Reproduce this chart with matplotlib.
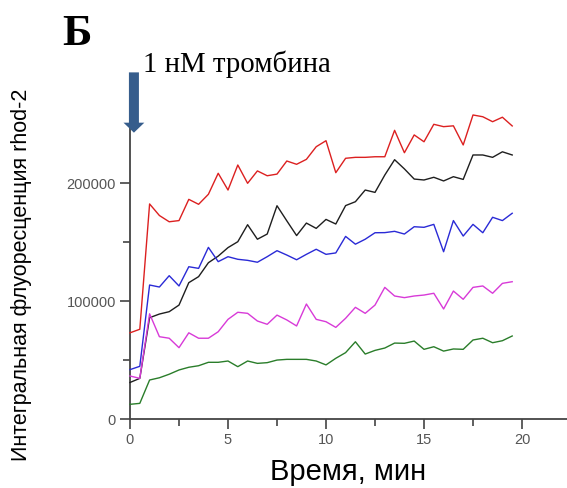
import matplotlib
matplotlib.use('Agg')
import matplotlib.pyplot as plt

# time axis, min (sampled every 0.5 min)
time_min = [i * 0.5 for i in range(40)]

red = [73300, 76300, 182500, 172700, 167400, 168400, 186400, 182200, 190700, 208500,
       194300, 215500, 200000, 210500, 206400, 207800, 218900, 216100, 220300, 231000,
       236100, 209000, 221200, 222000, 222000, 222500, 222500, 244900, 225900, 241000,
       235200, 250000, 248000, 248700, 232500, 257900, 256400, 252200, 256000, 248600]
black = [31200, 34700, 86100, 89200, 91200, 96800, 115800, 120900, 132700, 138300,
         145500, 150500, 164900, 152600, 157000, 181000, 168200, 155700, 166300, 161800,
         169400, 165500, 181100, 184400, 194300, 192300, 207000, 220000, 212200, 203600,
         202800, 205100, 202000, 205600, 203300, 224000, 224000, 222000, 226700, 224000]
blue = [42100, 44900, 113800, 112100, 121700, 113000, 129300, 127900, 145700, 133600,
        137800, 135600, 134700, 133100, 137800, 142900, 139200, 135200, 139800, 144100,
        139800, 141000, 155000, 148400, 152600, 158100, 158200, 159300, 157000, 163200,
        162700, 165200, 142000, 168400, 155300, 165200, 158100, 171200, 168400, 174600]
magenta = [36700, 34700, 89400, 70000, 68700, 60700, 73300, 68700, 68700, 74200,
           84700, 90700, 89800, 83300, 80500, 88300, 84200, 79100, 97700, 84700,
           82700, 77900, 85600, 94900, 89800, 96800, 111800, 104500, 103100, 104500,
           105300, 106800, 93500, 108700, 101700, 111800, 113000, 106800, 115200, 116600]
green = [12700, 13500, 33300, 35200, 38200, 41800, 44100, 45400, 48300, 48300,
         49400, 44600, 49400, 47400, 48000, 50200, 50800, 50800, 50800, 49400,
         46100, 51700, 56500, 65700, 55300, 58400, 60400, 64600, 64400, 66300,
         59300, 61500, 57800, 59600, 59300, 67200, 68700, 64900, 66600, 70600]

series = [(red, '#dc2020'), (black, '#1e1e1e'), (blue, '#2a2ad6'),
          (magenta, '#d83ad8'), (green, '#2a7d2a')]

W, H = 567, 488
fig = plt.figure(figsize=(W / 100, H / 100), dpi=100)
ax = fig.add_axes([130 / W, (H - 419.3) / H, (W - 130) / W, 295 / H])

for vals, col in series:
    ax.plot(time_min, vals, color=col, lw=1.0, clip_on=False, zorder=3)

ax.set_xlim(0, (W - 130) / 19.6)
ax.set_ylim(0, 250000)
ax.set_xticks([0, 5, 10, 15, 20])
ax.set_xticks([2.5, 7.5, 12.5, 17.5], minor=True)
ax.set_yticks([0, 100000, 200000])
ax.set_yticks([50000, 150000], minor=True)

for s in ['top', 'right']:
    ax.spines[s].set_visible(False)
for s in ['left', 'bottom']:
    ax.spines[s].set_color('#444444')
    ax.spines[s].set_linewidth(1.3)

ax.tick_params(which='both', direction='out', color='#444444', width=1.2,
               labelsize=10.5, labelcolor='#555555', pad=3)
ax.tick_params(which='major', length=7)
ax.tick_params(which='minor', length=5)
for lab in ax.get_xticklabels() + ax.get_yticklabels():
    lab.set_family('Liberation Sans')

ax.set_xlabel('Время, мин', fontsize=21, family='Liberation Sans', labelpad=8)
fig.text(22 / W, 1 - 274.5 / H, 'Интегральная флуоресценция rhod-2', rotation=90,
         ha='center', va='center', fontsize=15.5, family='Liberation Sans')

# thrombin addition arrow
ax.annotate('', xy=(0.2, 242900), xytext=(0.2, 294000), annotation_clip=False,
            arrowprops=dict(facecolor='#365d8c', edgecolor='none', width=7.2,
                            headwidth=15, headlength=7.2, shrink=0))
fig.text(143 / W, 1 - 72 / H, '1 нМ тромбина', fontsize=20.8,
         family='Liberation Serif', ha='left', va='baseline')
fig.text(62 / W, 1 - 45 / H, 'Б', fontsize=32, fontweight='bold',
         family='Liberation Serif', ha='left', va='baseline')

fig.savefig('out.png', dpi=100)
